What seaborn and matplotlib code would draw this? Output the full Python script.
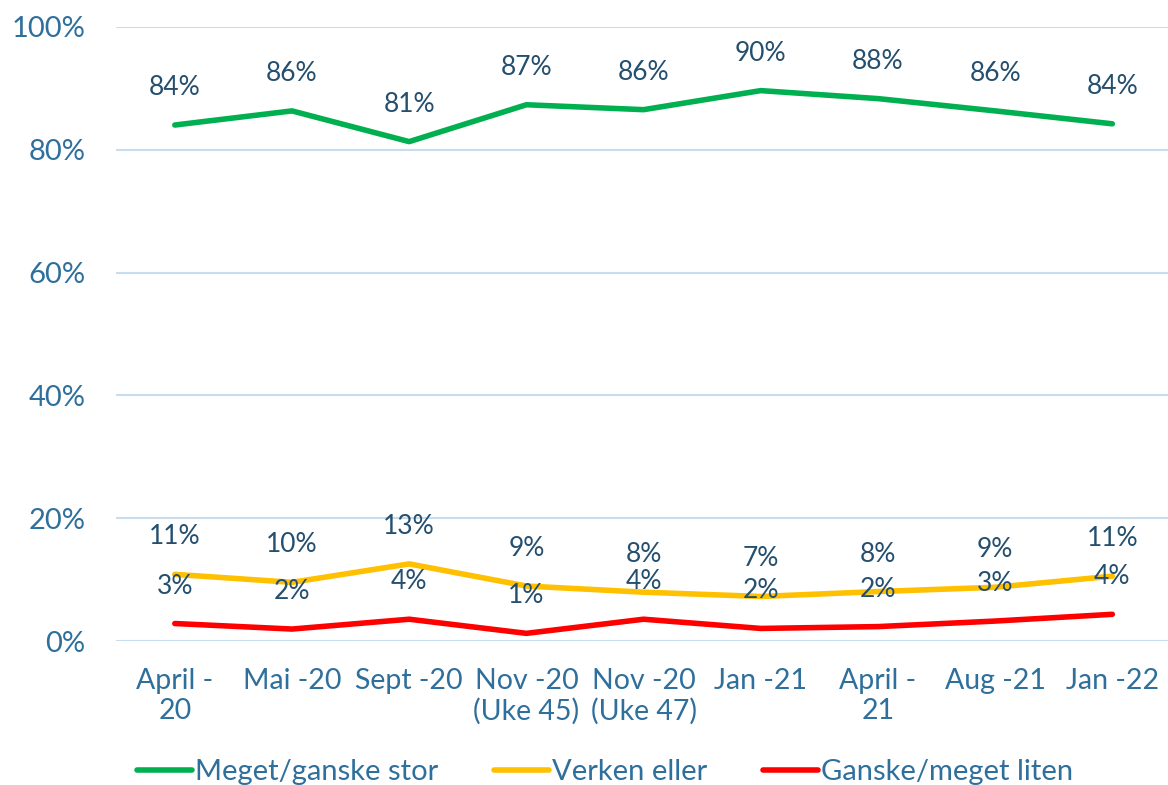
import pandas as pd
import matplotlib.pyplot as plt
import seaborn as sns

periods = ['April -\n20', 'Mai -20', 'Sept -20', 'Nov -20\n(Uke 45)', 'Nov -20\n(Uke 47)',
           'Jan -21', 'April -\n21', 'Aug -21', 'Jan -22']
stor = [84.0, 86.3, 81.3, 87.3, 86.5, 89.6, 88.3, 86.3, 84.2]
verken = [10.9, 9.6, 12.6, 9.0, 8.0, 7.3, 8.1, 8.8, 10.6]
liten = [2.9, 2.0, 3.6, 1.3, 3.6, 2.1, 2.4, 3.3, 4.4]
series_names = ['Meget/ganske stor', 'Verken eller', 'Ganske/meget liten']

sns.set_theme(style="white")
plt.rcParams['font.family'] = ['Lato', 'DejaVu Sans']

df = pd.DataFrame({
    'periode': periods * 3,
    'andel': stor + verken + liten,
    'svar': [series_names[0]] * 9 + [series_names[1]] * 9 + [series_names[2]] * 9,
})

palette = {series_names[0]: '#00B050', series_names[1]: '#FFC000', series_names[2]: '#FF0000'}
label_color = '#254F6E'
tick_color = '#2F6F9C'

fig = plt.figure(figsize=(11.68, 7.85), dpi=100)
ax = fig.add_axes([0.0995, 0.183, 0.903, 0.783])

sns.lineplot(data=df, x='periode', y='andel', hue='svar', palette=palette,
             sort=False, linewidth=4, ax=ax, legend=False)

for name, vals in zip(series_names, [stor, verken, liten]):
    for i, v in enumerate(vals):
        ax.annotate(f'{round(v):.0f}%', (i, v), xytext=(0, 27), textcoords='offset points',
                    ha='center', va='center', fontsize=19, color=label_color)

ax.set_ylim(0, 100)
ax.set_xlim(-0.5, 8.5)
ax.set_yticks([0, 20, 40, 60, 80, 100])
ax.set_yticklabels([f'{t}%' for t in [0, 20, 40, 60, 80, 100]])
ax.yaxis.grid(True, color='#C9DCEC', linewidth=1.5)
ax.set_axisbelow(True)
for s in ax.spines.values():
    s.set_visible(False)
ax.tick_params(axis='y', length=0, pad=22, labelsize=21, labelcolor=tick_color)
ax.tick_params(axis='x', length=0, pad=19, labelsize=20.5, labelcolor=tick_color)
ax.set_xlabel('')
ax.set_ylabel('')

handles = [plt.Line2D([], [], color=palette[n], linewidth=4) for n in series_names]
fig.legend(handles, series_names, loc='center', bbox_to_anchor=(0.518, 0.016), ncol=3,
           frameon=False, fontsize=21, handlelength=1.9, handletextpad=0.1, columnspacing=1.9,
           labelcolor=tick_color)

fig.savefig('out.png', dpi=100)
